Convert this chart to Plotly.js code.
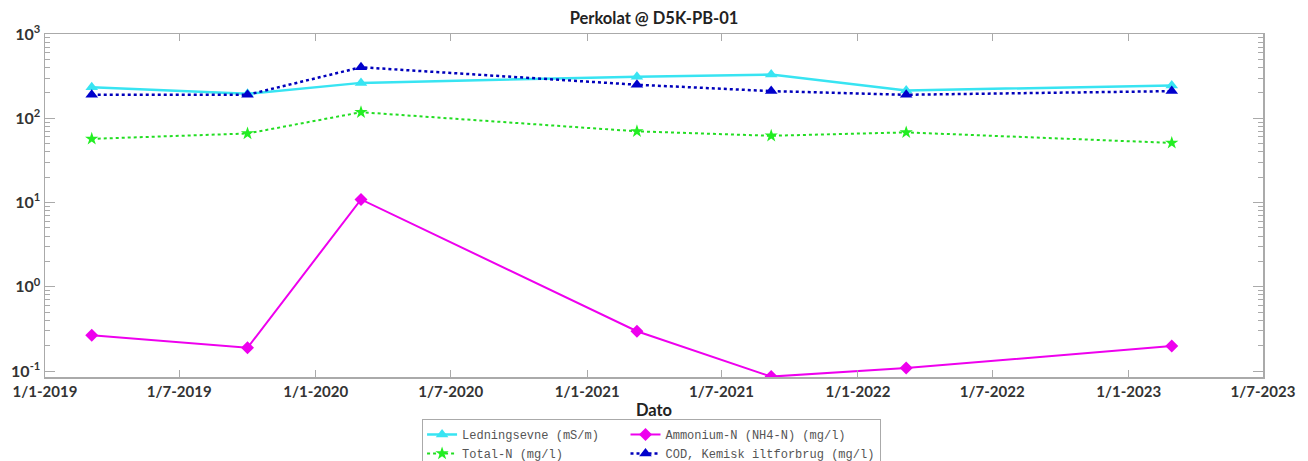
<!DOCTYPE html>
<html>
<head>
<meta charset="utf-8">
<script src="https://cdn.plot.ly/plotly-3.0.1.min.js"></script>
<style>html,body{margin:0;padding:0;background:#fff;}#chart{width:1308px;height:461px;}</style>
</head>
<body>
<div id="chart"></div>
<script>
const dates = ['2019-03-05','2019-10-01','2020-03-02','2021-03-09','2021-09-06','2022-03-07','2023-02-28'];
const ledningsevne = [234, 195, 263, 312, 330, 214, 245];
const ammonium = [0.267, 0.189, 10.9, 0.297, 0.086, 0.109, 0.198];
const totalN = [57, 66, 118, 70, 62, 68, 51];
const cod = [190, 190, 403, 250, 210, 190, 210];

const seriesNames = ['Ledningsevne (mS/m)', 'Ammonium-N (NH4-N) (mg/l)', 'Total-N (mg/l)', 'COD, Kemisk iltforbrug (mg/l)'];

const xTickVals = ['2019-01-01','2019-07-01','2020-01-01','2020-07-01','2021-01-01','2021-07-01','2022-01-01','2022-07-01','2023-01-01','2023-07-01'];
const xTickText = ['1/1-2019','1/7-2019','1/1-2020','1/7-2020','1/1-2021','1/7-2021','1/1-2022','1/7-2022','1/1-2023','1/7-2023'];
const yTickVals = [0.1, 1, 10, 100, 1000];
const yTickText = ['10<sup>-1</sup>','10<sup>0</sup>','10<sup>1</sup>','10<sup>2</sup>','10<sup>3</sup>'];
const yMinorVals = [0.2,0.3,0.4,0.5,0.6,0.7,0.8,0.9,2,3,4,5,6,7,8,9,20,30,40,50,60,70,80,90,200,300,400,500,600,700,800,900];

const pad = '\u00a0\u00a0\u00a0';

const traces = [
  {x: dates, y: ledningsevne, name: seriesNames[0] + pad, legendgroup: 'a', mode: 'lines+markers',
   line: {color: '#38e4f2', width: 2.5}, marker: {symbol: 'triangle-up', size: 11, color: '#38e4f2'}},
  {x: dates, y: ammonium, name: seriesNames[1], legendgroup: 'b', mode: 'lines+markers',
   line: {color: '#ee00ee', width: 2}, marker: {symbol: 'diamond', size: 10, color: '#ee00ee'}},
  {x: dates, y: totalN, name: seriesNames[2], legendgroup: 'a', mode: 'lines+markers',
   line: {color: '#22dd22', width: 2, dash: 'dot'}, marker: {symbol: 'star', size: 10, color: '#22ee22'}},
  {x: dates, y: cod, name: seriesNames[3], legendgroup: 'b', mode: 'lines+markers',
   line: {color: '#0000bb', width: 2.5, dash: 'dot'}, marker: {symbol: 'triangle-up', size: 11, color: '#0000cc'}}
];

const xTickFont = {family: 'Lato, sans-serif', size: 15, color: '#333', weight: 'bold'};
const yTickFont = {family: 'Lato, sans-serif', size: 16, color: '#333', weight: 'bold'};

const layout = {
  width: 1308, height: 461,
  margin: {l: 45, r: 45, t: 34, b: 84, autoexpand: false},
  paper_bgcolor: '#fff', plot_bgcolor: '#fff',
  showlegend: true,
  title: {text: '<b>Perkolat @ D5K-PB-01</b>', x: 0.5, xref: 'paper', y: 0.96, yanchor: 'middle',
          font: {family: 'Lato, sans-serif', size: 16.5, color: '#222'}},
  xaxis: {
    type: 'date', range: ['2019-01-01', '2023-07-01'],
    tickmode: 'array', tickvals: xTickVals, ticktext: xTickText,
    ticks: 'inside', ticklen: 7, tickcolor: '#aaa', tickwidth: 1,
    showline: true, linecolor: '#aaa', linewidth: 1.5, mirror: 'ticks',
    showgrid: false, zeroline: false, tickfont: xTickFont,
    title: {text: '<b>Dato</b>', font: {family: 'Lato, sans-serif', size: 16.5, color: '#222'}, standoff: 6}
  },
  yaxis: {
    type: 'log', range: [-1.07, 3],
    tickmode: 'array', tickvals: yTickVals, ticktext: yTickText,
    ticks: 'inside', ticklen: 10, tickcolor: '#aaa', tickwidth: 1,
    minor: {tickmode: 'array', tickvals: yMinorVals, ticks: 'inside', ticklen: 5, tickcolor: '#aaa', showgrid: false},
    showline: true, linecolor: '#aaa', linewidth: 1.5, mirror: 'ticks',
    showgrid: false, zeroline: false, tickfont: yTickFont
  },
  legend: {
    orientation: 'h', traceorder: 'grouped', x: 0.498, xanchor: 'center', y: -0.1224, yanchor: 'top',
    bgcolor: '#fff', bordercolor: '#aaa', borderwidth: 1,
    font: {family: '"Liberation Mono", monospace', size: 12, color: '#555'},
    tracegroupgap: 0, itemwidth: 30
  }
};

Plotly.newPlot('chart', traces, layout, {displayModeBar: false, staticPlot: true});
</script>
</body>
</html>
